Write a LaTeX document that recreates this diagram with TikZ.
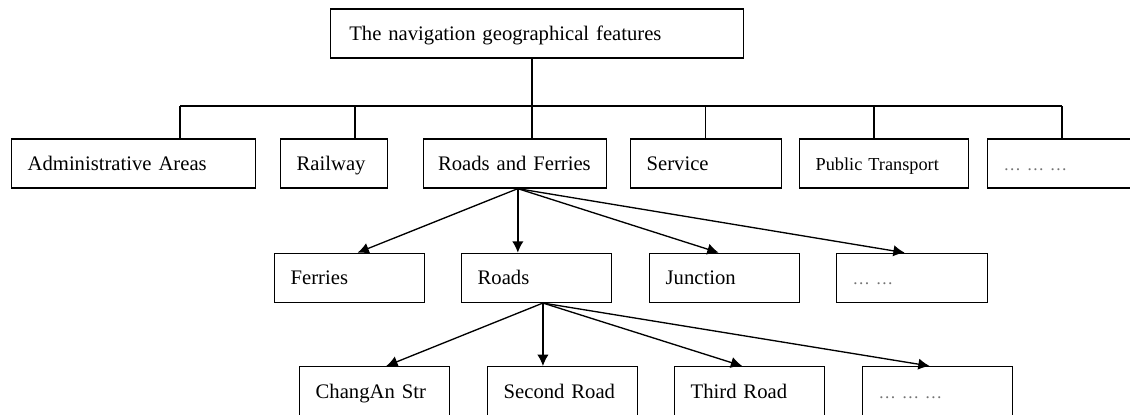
\documentclass[tikz,border=0pt]{standalone}
\usepackage{fontspec}
\setmainfont{Liberation Serif}
\usetikzlibrary{arrows.meta}
\tikzset{
  box/.style={draw=black,line width=1pt,rectangle,anchor=north west,minimum height=36.75pt,
    inner xsep=12pt,inner ysep=0pt,text height=10.5pt,text depth=0pt,align=left,
    font=\fontsize{15.5}{18}\selectfont},
  etcbox/.style={box,font=\fontsize{13}{16}\selectfont,text=black!55},
  link/.style={line width=1pt},
  arr/.style={line width=1pt,-{Latex[length=8.5pt,width=8.5pt]}}
}

\begin{document}
\begin{tikzpicture}[x=0.75pt,y=-0.75pt]
\useasboundingbox (0,0) rectangle (1130,414);
\clip (0,0) rectangle (1130,414);
% root
\node (feat) [box,inner xsep=14pt,text width=281.75pt] at (330,8.3) {The navigation geographical features};
%
\node (admin) [box,text width=159pt] at (11,138.3) {Administrative Areas};
\node (rail) [box,text width=56.25pt] at (280,138.3) {Railway};
\node (rf) [box,inner xsep=10.8pt,text width=115.65pt] at (423,138.3) {Roads and Ferries};
\node (serv) [box,text width=89.25pt] at (630,138.3) {Service};
\node (pub) [box,text width=102.75pt,font=\fontsize{13.7}{16}\selectfont] at (799,138.3) {Public Transport};
\node (etca) [etcbox,text width=90.75pt] at (987,138.3) {… … …};
%
\node (ferries) [box,text width=88.5pt] at (274,252.7) {Ferries};
\node (roads) [box,text width=88.5pt] at (461,252.7) {Roads};
\node (junc) [box,text width=88.5pt] at (649,252.7) {Junction};
\node (etcb) [etcbox,text width=89.25pt] at (836,252.7) {… …};
%
\node (chang) [box,text width=88.5pt] at (299,366) {ChangAn Str};
\node (second) [box,text width=88.5pt] at (487,366) {Second Road};
\node (third) [box,text width=88.5pt] at (674,366) {Third Road};
\node (etcc) [etcbox,text width=88.5pt] at (862,366) {… … …};
%
% the bus line and its drops
\coordinate (b0) at (532,106);
\coordinate (b1) at (180,106);
\coordinate (b2) at (355,106);
\coordinate (b4) at (705.5,106);
\coordinate (b5) at (874,106);
\coordinate (b6) at (1062,106);
\draw[link] (feat.south -| b0) -- (b0);
\draw[link] (b1) -- (b6);
\draw[link] (b1) -- (b1 |- admin.north);
\draw[link] (b2) -- (b2 |- rail.north);
\draw[link] (b0) -- (b0 |- rf.north);
\draw[link] (b4) -- (b4 |- serv.north);
\draw[link] (b5) -- (b5 |- pub.north);
\draw[link] (b6) -- (b6 |- etca.north);
%
\coordinate (rfo) at ([xshift=2pt]rf.south);
\draw[arr] (rfo) -- ([xshift=5.9pt]ferries.north);
\draw[arr] (rfo) -- (rfo |- roads.north);
\draw[arr] (rfo) -- ([xshift=-4.5pt]junc.north);
\draw[arr] (rfo) -- ([xshift=-5.6pt]etcb.north);
%
\coordinate (rdo) at ([xshift=4.7pt]roads.south);
\draw[arr] (rdo) -- ([xshift=8.7pt]chang.north);
\draw[arr] (rdo) -- (rdo |- second.north);
\draw[arr] (rdo) -- ([xshift=-5.6pt]third.north);
\draw[arr] (rdo) -- ([xshift=-6pt]etcc.north);
\end{tikzpicture}
\end{document}
